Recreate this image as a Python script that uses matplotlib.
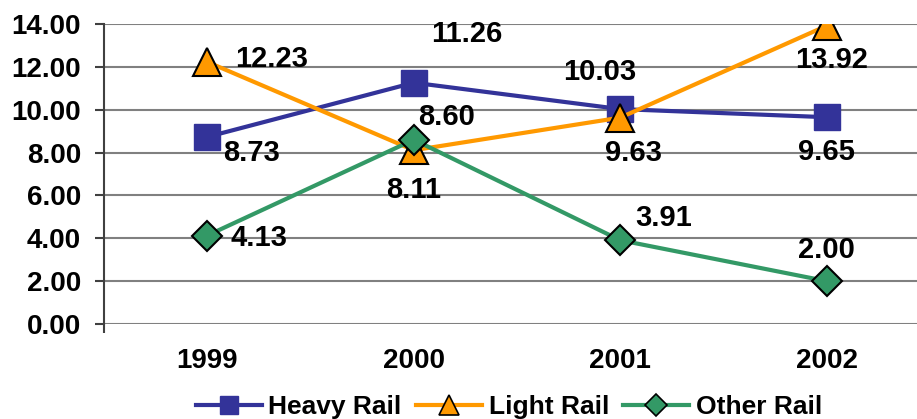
import matplotlib
matplotlib.use("Agg")
import matplotlib.pyplot as plt
from matplotlib.lines import Line2D

years = ["1999", "2000", "2001", "2002"]
heavy = [8.73, 11.26, 10.03, 9.65]
light = [12.23, 8.11, 9.63, 13.92]
other = [4.13, 8.60, 3.91, 2.00]
yticks = [0, 2, 4, 6, 8, 10, 12, 14]

plt.rcParams['font.family'] = ['Liberation Sans', 'DejaVu Sans']
plt.rcParams['font.weight'] = 'bold'

fig = plt.figure(figsize=(9.17, 4.19), dpi=100)
ax = fig.add_axes([104/917, 95/419, 813/917, 300/419])

x = list(range(len(years)))
c_heavy, c_light, c_other = '#333399', '#FF9900', '#339966'
ax.plot(x, heavy, color=c_heavy, lw=3, marker='s', ms=19, mfc=c_heavy, mec=c_heavy, zorder=3)
ax.plot(x, light, color=c_light, lw=3, marker='^', ms=20, mfc=c_light, mec='black', mew=1.5, zorder=4)
ax.plot(x, other, color=c_other, lw=3, marker='D', ms=15, mfc=c_other, mec='black', mew=1.5, zorder=5)

fs_tick = 20
fs_lab = 21
fs_leg = 19
px = 0.72
offs_heavy = [(44, -16), (53, 49), (-21, 37), (0, -35)]
offs_light = [(64, 3), (0, -40), (13, -35), (5, -34)]
offs_other = [(52, -2), (33, 23), (43, 22), (0, 31)]
for vals, offs in ((heavy, offs_heavy), (light, offs_light), (other, offs_other)):
    for i, (v, o) in enumerate(zip(vals, offs)):
        ax.annotate(f"{v:.2f}", (i, v), xytext=(o[0]*px, o[1]*px), textcoords='offset points',
                    ha='center', va='center', fontsize=fs_lab, fontweight='bold', zorder=6)

ax.set_xlim(-0.5, 3.437)
ax.set_ylim(0, 14)
ax.set_yticks(yticks)
ax.set_yticklabels([f"{t:.2f}" for t in yticks], fontsize=fs_tick, fontweight='bold')
ax.set_xticks(x)
ax.set_xticklabels(years, fontsize=fs_tick, fontweight='bold')
ax.tick_params(axis='x', length=0, pad=17)
ax.tick_params(axis='y', length=6.5, width=1.5, color='#404040', direction='out', pad=10)
ax.set_xticks([-0.5], minor=True)
ax.tick_params(axis='x', which='minor', length=6.5, width=1.5, color='#404040', direction='out')
ax.yaxis.grid(True, color='#808080', lw=1.5)
ax.set_axisbelow(True)
for s in ['top', 'right', 'bottom']:
    ax.spines[s].set_visible(False)
ax.spines['left'].set_color('#404040')
ax.spines['left'].set_linewidth(1.5)

handles = [
    Line2D([], [], color=c_heavy, lw=3, marker='s', ms=13, mfc=c_heavy, mec=c_heavy),
    Line2D([], [], color=c_light, lw=3, marker='^', ms=14, mfc=c_light, mec='black', mew=1.2),
    Line2D([], [], color=c_other, lw=3, marker='D', ms=11, mfc=c_other, mec='black', mew=1.2),
]
fig.legend(handles, ["Heavy Rail", "Light Rail", "Other Rail"], loc='center',
           bbox_to_anchor=(509/917, 1 - 407/419), ncol=3, frameon=False,
           prop={'size': fs_leg, 'weight': 'bold'}, handlelength=2.5, handletextpad=0.25,
           columnspacing=0.55, borderpad=0)

fig.savefig("out.png", dpi=100)
